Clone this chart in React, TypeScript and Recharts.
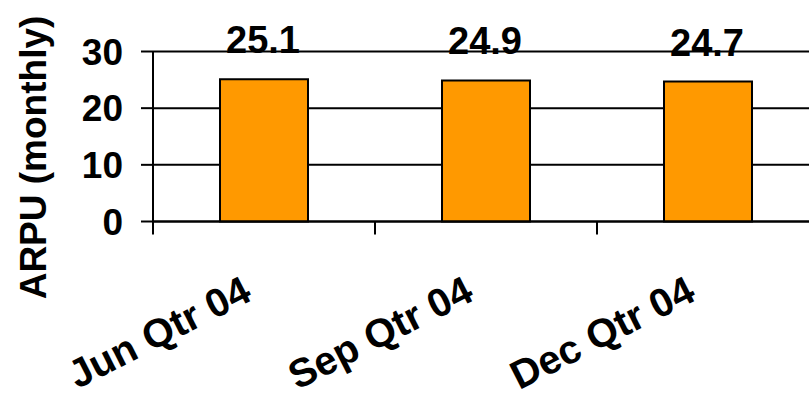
import { Bar, BarChart, CartesianGrid, Label, LabelList, XAxis, YAxis } from "recharts";

const quarters = ["Jun Qtr 04", "Sep Qtr 04", "Dec Qtr 04"];
const arpu = [25.1, 24.9, 24.7];
const yTicks = [0, 10, 20, 30];

const FONT = "'Liberation Sans', Arial, sans-serif";

const data = quarters.map((q, i) => ({ quarter: q, arpu: arpu[i] }));

function QuarterTick(props: any) {
  const { x, y, payload } = props;
  const half = payload?.offset ?? 111;
  return (
    <g>
      <line x1={x - half} y1={y} x2={x - half} y2={y + 13} stroke="#000" strokeWidth={2} />
      <text
        transform={`translate(${x - 10.5}, ${y + 78}) rotate(-27)`}
        textAnchor="end"
        fontFamily={FONT}
        fontWeight="bold"
        fontSize={40}
        fill="#000"
      >
        {payload.value}
      </text>
    </g>
  );
}

function ValueLabel(props: any) {
  const { x, y, width, value } = props;
  return (
    <text
      x={x + width / 2 - 1}
      y={y - 26}
      textAnchor="middle"
      fontFamily={FONT}
      fontWeight="bold"
      fontSize={38}
      fill="#000"
    >
      {value}
    </text>
  );
}

export default function App() {
  return (
    <div
      style={{
        position: "absolute",
        left: 0,
        top: 0,
        width: 809,
        height: 396,
        overflow: "hidden",
        background: "#fff",
      }}
    >
      <BarChart
        width={830}
        height={396}
        data={data}
        margin={{ top: 51.5, right: 11, bottom: 0, left: 0 }}
      >
        <CartesianGrid vertical={false} stroke="#000" strokeWidth={2} />
        <XAxis
          dataKey="quarter"
          height={174.5}
          tickLine={false}
          tickSize={0}
          tickMargin={0}
          axisLine={{ stroke: "#000", strokeWidth: 2 }}
          tick={<QuarterTick />}
          interval={0}
        />
        <YAxis
          domain={[0, 30]}
          ticks={yTicks}
          width={153}
          tickSize={12}
          tickMargin={18}
          tickLine={{ stroke: "#000", strokeWidth: 2 }}
          axisLine={{ stroke: "#000", strokeWidth: 2 }}
          tick={{ fill: "#000", fontSize: 37, fontWeight: "bold", fontFamily: FONT }}
        >
          <Label
            content={() => (
              <text
                transform="translate(46, 157.5) rotate(-90)"
                textAnchor="middle"
                fontFamily={FONT}
                fontWeight="bold"
                fontSize={37}
                fill="#000"
              >
                ARPU (monthly)
              </text>
            )}
          />
        </YAxis>
        <Bar
          dataKey="arpu"
          fill="#FF9900"
          stroke="#000"
          strokeWidth={2}
          barSize={88}
          isAnimationActive={false}
        >
          <LabelList dataKey="arpu" content={<ValueLabel />} />
        </Bar>
      </BarChart>
    </div>
  );
}
